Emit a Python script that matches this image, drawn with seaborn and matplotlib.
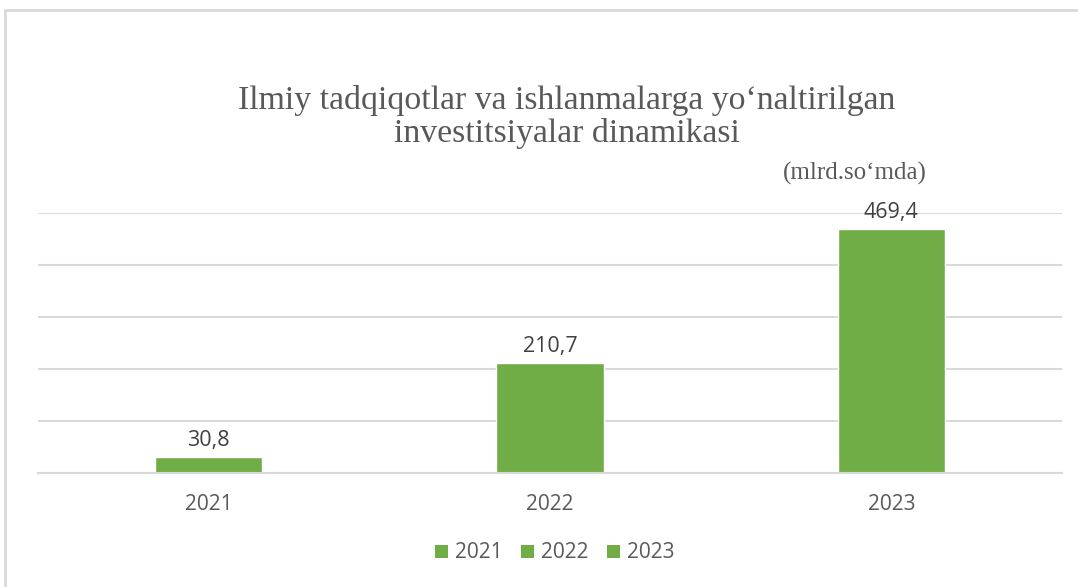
import matplotlib
matplotlib.use("Agg")
import matplotlib.pyplot as plt
import seaborn as sns
import pandas as pd
from matplotlib.lines import Line2D
from matplotlib.patches import Patch

years = ["2021", "2022", "2023"]
values = [30.8, 210.7, 469.4]
value_labels = ["30,8", "210,7", "469,4"]
title = "Ilmiy tadqiqotlar va ishlanmalarga yo\u2018naltirilgan\ninvestitsiyalar dinamikasi"
unit = "(mlrd.so\u2018mda)"

green = "#70AD47"
grid_c = "#D9D9D9"
txt_c = "#595959"

sns.set_theme(style="white")
plt.rcParams['font.family'] = ['Open Sans', 'DejaVu Sans']

df = pd.DataFrame({"year": years, "value": values})

fig = plt.figure(figsize=(10.78, 5.87), dpi=100)
W, H = 1078, 587
ax = fig.add_axes([38 / W, 1 - 473 / H, (1062 - 38) / W, (473 - 213) / H])

sns.barplot(data=df, x="year", y="value", hue="year", palette=[green] * 3,
            dodge=False, width=0.314, ax=ax, legend=False, saturation=1)

ax.set_ylim(0, 500)
ax.set_xlim(-0.5, 2.5)
ax.set_yticks([0, 100, 200, 300, 400, 500])
ax.yaxis.grid(True, color=grid_c, linewidth=1.5)
ax.set_axisbelow(True)
ax.tick_params(axis='y', left=False, labelleft=False)
ax.tick_params(axis='x', bottom=False, labelsize=15, labelcolor=txt_c, pad=9)
for s in ["top", "right", "left"]:
    ax.spines[s].set_visible(False)
ax.spines["bottom"].set_color(grid_c)
ax.spines["bottom"].set_linewidth(1.5)
ax.set_xlabel("")
ax.set_ylabel("")

for i, (v, lab) in enumerate(zip(values, value_labels)):
    ax.annotate(lab, (i, v), xytext=(0, 4.5), textcoords="offset points",
                ha="center", va="bottom", fontsize=15.5, color="#404040")

fig.text(567 / W, 1 - 117 / H, title, ha="center", va="center",
         fontsize=24.3, color=txt_c, family=["Liberation Serif", "DejaVu Serif"],
         linespacing=1.06)
fig.text(855 / W, 1 - 173 / H, unit, ha="center", va="center",
         fontsize=18, color=txt_c, family=["Liberation Serif", "DejaVu Serif"])

handles = [Patch(facecolor=green, edgecolor="none", label=y) for y in years]
fig.legend(handles=handles, loc="center", bbox_to_anchor=(555 / W, 1 - 553 / H),
           ncol=3, frameon=False, fontsize=15, labelcolor=txt_c,
           handlelength=0.6, handleheight=0.6, handletextpad=0.35, columnspacing=0.9)

# outer chart frame
fig.add_artist(Line2D([5 / W, 5 / W], [0, 1 - 10 / H], transform=fig.transFigure,
                      color=grid_c, linewidth=2))
fig.add_artist(Line2D([5 / W, 1], [1 - 10 / H, 1 - 10 / H], transform=fig.transFigure,
                      color=grid_c, linewidth=2))

fig.savefig("out.png", dpi=100, facecolor="white")
